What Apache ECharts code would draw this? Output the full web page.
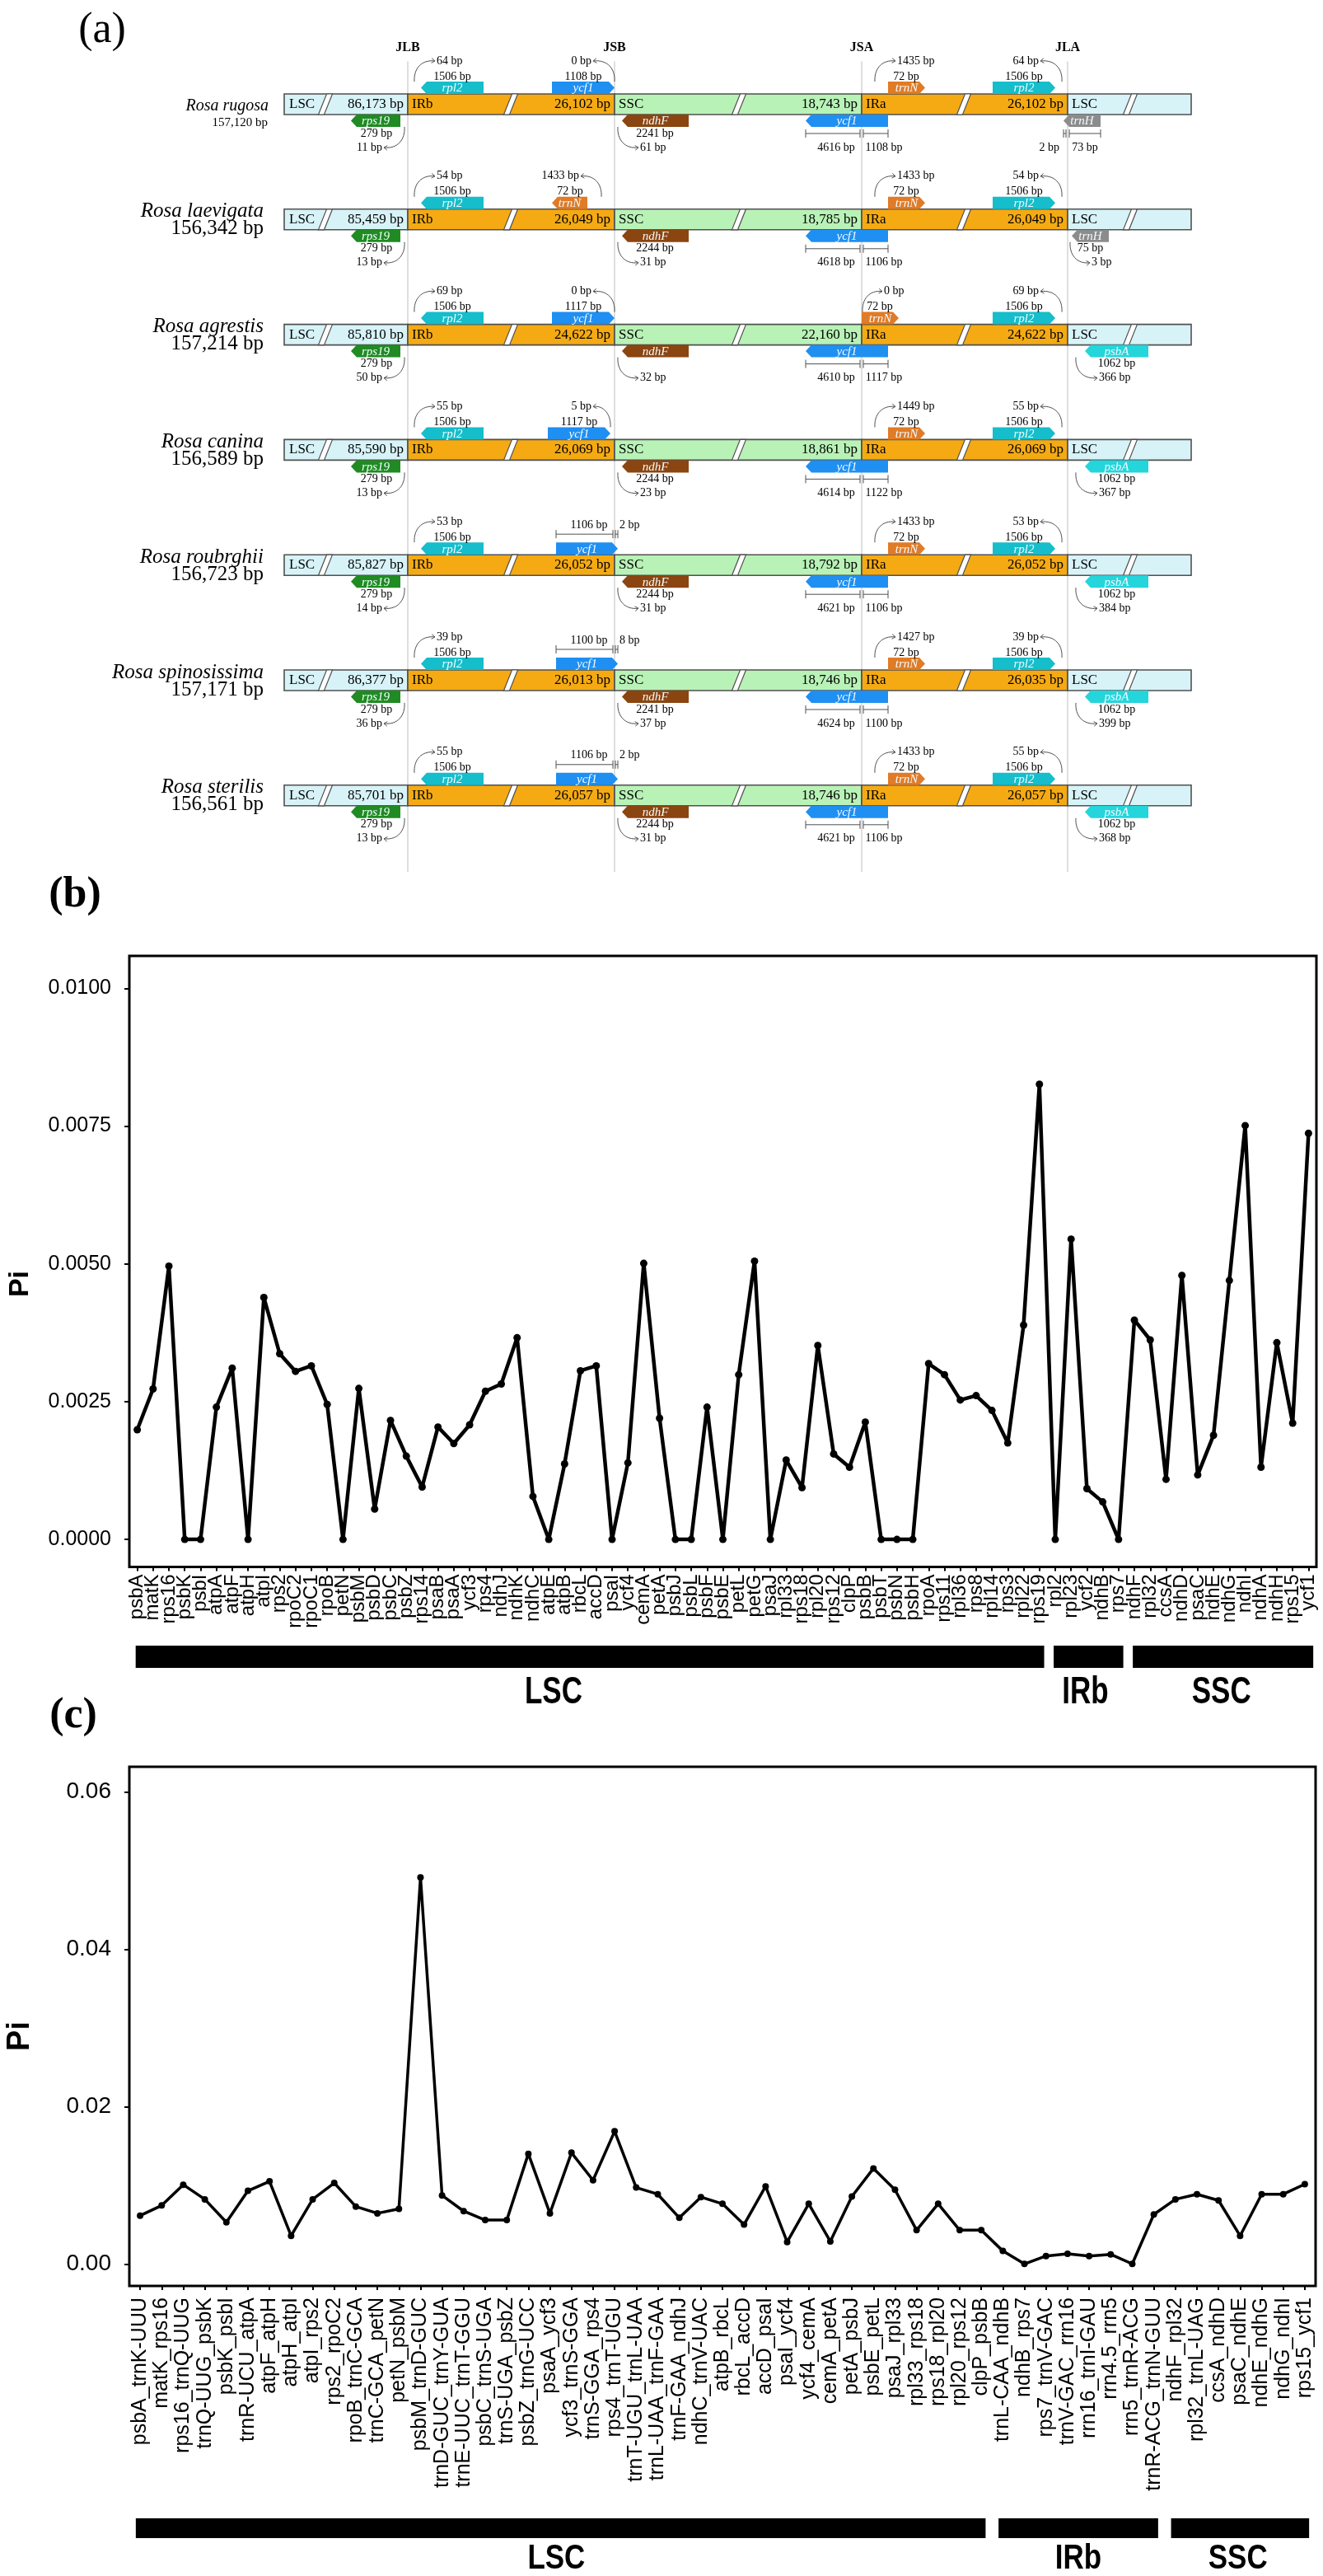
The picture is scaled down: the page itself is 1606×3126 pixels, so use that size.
<!DOCTYPE html>
<html>
<head>
<meta charset="utf-8">
<script src="https://cdn.jsdelivr.net/npm/echarts@6/dist/echarts.min.js"></script>
<style>
html, body { margin: 0; padding: 0; background: #fff; }
#chart { width: 1606px; height: 3126px; }
</style>
</head>
<body>
<div id="chart"></div>
<script>
// ---------- (a) IR boundaries ----------
const species = ['Rosa rugosa', 'Rosa laevigata', 'Rosa agrestis', 'Rosa canina', 'Rosa roubrghii', 'Rosa spinosissima', 'Rosa sterilis'];
const genomeSize = ['157,120 bp', '156,342 bp', '157,214 bp', '156,589 bp', '156,723 bp', '157,171 bp', '156,561 bp'];
const lscSize = ['86,173 bp', '85,459 bp', '85,810 bp', '85,590 bp', '85,827 bp', '86,377 bp', '85,701 bp'];
const irbSize = ['26,102 bp', '26,049 bp', '24,622 bp', '26,069 bp', '26,052 bp', '26,013 bp', '26,057 bp'];
const sscSize = ['18,743 bp', '18,785 bp', '22,160 bp', '18,861 bp', '18,792 bp', '18,746 bp', '18,746 bp'];
const iraSize = ['26,102 bp', '26,049 bp', '24,622 bp', '26,069 bp', '26,052 bp', '26,035 bp', '26,057 bp'];
const rpl2Len = [1506, 1506, 1506, 1506, 1506, 1506, 1506];
const rpl2Gap = [64, 54, 69, 55, 53, 39, 55];
const rps19Len = [279, 279, 279, 279, 279, 279, 279];
const rps19Gap = [11, 13, 50, 13, 14, 36, 13];
const jsbGene = ['ycf1', 'trnN', 'ycf1', 'ycf1', 'ycf1', 'ycf1', 'ycf1'];
const jsbGeneLen = [1108, 72, 1117, 1117, 1106, 1100, 1106];
const jsbGeneGap = [0, 1433, 0, 5, 2, 8, 2];
const jsbCross = [false, false, false, false, true, true, true];
const ndhFLen = [2241, 2244, null, 2244, 2244, 2241, 2244];
const ndhFGap = [61, 31, 32, 23, 31, 37, 31];
const ycf1InSsc = [4616, 4618, 4610, 4614, 4621, 4624, 4621];
const ycf1InIra = [1108, 1106, 1117, 1122, 1106, 1100, 1106];
const trnNLen = [72, 72, 72, 72, 72, 72, 72];
const trnNGap = [1435, 1433, 0, 1449, 1433, 1427, 1433];
const jlaGene = ['trnH', 'trnH', 'psbA', 'psbA', 'psbA', 'psbA', 'psbA'];
const jlaGeneLen = [73, 75, 1062, 1062, 1062, 1062, 1062];
const jlaGeneGap = [2, 3, 366, 367, 384, 399, 368];
const jlaCross = [true, false, false, false, false, false, false];
const junctions = ['JLB', 'JSB', 'JSA', 'JLA'];

// ---------- (b) genes ----------
const bGenes = ['psbA', 'matK', 'rps16', 'psbK', 'psbI', 'atpA', 'atpF', 'atpH', 'atpI', 'rps2',
  'rpoC2', 'rpoC1', 'rpoB', 'petN', 'psbM', 'psbD', 'psbC', 'psbZ', 'rps14', 'psaB',
  'psaA', 'ycf3', 'rps4', 'ndhJ', 'ndhK', 'ndhC', 'atpE', 'atpB', 'rbcL', 'accD',
  'psaI', 'ycf4', 'cemA', 'petA', 'psbJ', 'psbL', 'psbF', 'psbE', 'petL', 'petG',
  'psaJ', 'rpl33', 'rps18', 'rpl20', 'rps12', 'clpP', 'psbB', 'psbT', 'psbN', 'psbH',
  'rpoA', 'rps11', 'rpl36', 'rps8', 'rpl14', 'rps3', 'rpl22', 'rps19', 'rpl2', 'rpl23',
  'ycf2', 'ndhB', 'rps7', 'ndhF', 'rpl32', 'ccsA', 'ndhD', 'psaC', 'ndhE', 'ndhG',
  'ndhI', 'ndhA', 'ndhH', 'rps15', 'ycf1'];
const bPi = [0.00199, 0.00273, 0.00496, 0, 0, 0.00240, 0.00311, 0, 0.00439, 0.00337,
  0.00305, 0.00315, 0.00245, 0, 0.00274, 0.00055, 0.00216, 0.00151, 0.00095, 0.00204,
  0.00174, 0.00208, 0.00269, 0.00282, 0.00366, 0.00078, 0, 0.00137, 0.00306, 0.00315,
  0, 0.00139, 0.00501, 0.00220, 0, 0, 0.00240, 0, 0.00299, 0.00505,
  0, 0.00144, 0.00094, 0.00352, 0.00155, 0.00131, 0.00213, 0, 0, 0,
  0.00319, 0.00299, 0.00253, 0.00261, 0.00234, 0.00175, 0.00389, 0.00826, 0, 0.00545,
  0.00092, 0.00068, 0, 0.00398, 0.00362, 0.00109, 0.00479, 0.00117, 0.00189, 0.00470,
  0.00751, 0.00131, 0.00357, 0.00211, 0.00737];
const bTicks = [0, 0.0025, 0.005, 0.0075, 0.01];
const bRegionName = ['LSC', 'IRb', 'SSC'];
const bRegionFirst = [0, 58, 63];
const bRegionLast = [57, 62, 74];
const bRegionLabelAt = [26.3, 59.9, 68.5];

// ---------- (c) intergenic regions ----------
const cRegions = ['psbA_trnK-UUU', 'matK_rps16', 'rps16_trnQ-UUG', 'trnQ-UUG_psbK', 'psbK_psbI', 'trnR-UCU_atpA', 'atpF_atpH', 'atpH_atpI', 'atpI_rps2', 'rps2_rpoC2',
  'rpoB_trnC-GCA', 'trnC-GCA_petN', 'petN_psbM', 'psbM_trnD-GUC', 'trnD-GUC_trnY-GUA', 'trnE-UUC_trnT-GGU', 'psbC_trnS-UGA', 'trnS-UGA_psbZ', 'psbZ_trnG-UCC', 'psaA_ycf3',
  'ycf3_trnS-GGA', 'trnS-GGA_rps4', 'rps4_trnT-UGU', 'trnT-UGU_trnL-UAA', 'trnL-UAA_trnF-GAA', 'trnF-GAA_ndhJ', 'ndhC_trnV-UAC', 'atpB_rbcL', 'rbcL_accD', 'accD_psaI',
  'psaI_ycf4', 'ycf4_cemA', 'cemA_petA', 'petA_psbJ', 'psbE_petL', 'psaJ_rpl33', 'rpl33_rps18', 'rps18_rpl20', 'rpl20_rps12', 'clpP_psbB',
  'trnL-CAA_ndhB', 'ndhB_rps7', 'rps7_trnV-GAC', 'trnV-GAC_rrn16', 'rrn16_trnI-GAU', 'rrn4.5_rrn5', 'rrn5_trnR-ACG', 'trnR-ACG_trnN-GUU',
  'ndhF_rpl32', 'rpl32_trnL-UAG', 'ccsA_ndhD', 'psaC_ndhE', 'ndhE_ndhG', 'ndhG_ndhI', 'rps15_ycf1'];
const cPi = [0.00614, 0.00743, 0.01007, 0.00821, 0.00529, 0.00929, 0.0105, 0.00357, 0.00821, 0.01029,
  0.00729, 0.00643, 0.0070, 0.04914, 0.00871, 0.00671, 0.00557, 0.00557, 0.0140, 0.00643,
  0.01414, 0.01064, 0.01686, 0.00971, 0.00886, 0.00586, 0.0085, 0.00764, 0.0050, 0.00986,
  0.00279, 0.00764, 0.00286, 0.00857, 0.01214, 0.00943, 0.00429, 0.00764, 0.00429, 0.00429,
  0.00164, 0, 0.0010, 0.00129, 0.0010, 0.00121, 0, 0.00629,
  0.00821, 0.00886, 0.00807, 0.00357, 0.00886, 0.00886, 0.01014];
const cTicks = [0, 0.02, 0.04, 0.06];
const cRegionName = ['LSC', 'IRb', 'SSC'];
const cRegionFirst = [0, 40, 48];
const cRegionLast = [39, 47, 54];
const cRegionLabelAt = [19.3, 43.5, 50.9];

// ---------- drawing ----------
const SERIF = "'Liberation Serif', 'Times New Roman', serif";
const SANS = "'Liberation Sans', Arial, Helvetica, sans-serif";
const LINE = '#505050';
const J = { JLB: 150, JSB: 401, JSA: 701, JLA: 951 };
const SEGMENTS = [[0, 150, '#d7f3f8'], [150, 401, '#f5aa13'], [401, 701, '#b9f2b7'], [701, 951, '#f5aa13'], [951, 1101, '#d7f3f8']];
const SLASHES = [50, 275, 552, 825, 1027];
const GENE_COLOR = { rpl2: '#16bdca', ycf1: '#1f8ff2', trnN: '#e07b27', ndhF: '#8b4511', rps19: '#1f8b22', trnH: '#8c8c8c', psbA: '#24d5db' };

function txt(x, y, text, o) {
    return { type: 'text', style: Object.assign({ x: x, y: y, text: String(text), fill: '#000', fontSize: 14, fontFamily: SERIF, align: 'center', verticalAlign: 'middle' }, o || {}) };
}

function gene(x1, x2, y, dir, name) {
    const h = 15, tip = 7;
    const pts = dir === 'left'
        ? [[x1, y + h / 2], [x1 + tip, y], [x2, y], [x2, y + h], [x1 + tip, y + h]]
        : [[x1, y], [x2 - tip, y], [x2, y + h / 2], [x2 - tip, y + h], [x1, y + h]];
    return [
        { type: 'polygon', shape: { points: pts }, style: { fill: GENE_COLOR[name] } },
        txt((x1 + x2) / 2, y + h / 2 + 1, name, { fill: '#f2fcff', fontStyle: 'italic', fontSize: 15 })
    ];
}

// curved arrow from a gene end to its distance label
function arc(sx, sy, ex, ey) {
    const dx = Math.sign(ex - sx), dy = Math.sign(ey - sy);
    const c1x = sx - dx, c1y = sy + dy * 15;
    const c2x = sx + dx * 8, c2y = ey + dy * 2;
    const L = Math.hypot(ex - c2x, ey - c2y), ux = (ex - c2x) / L, uy = (ey - c2y) / L;
    const wing = a => [ex - 5 * (ux * Math.cos(a) - uy * Math.sin(a)), ey - 5 * (ux * Math.sin(a) + uy * Math.cos(a))];
    return [
        { type: 'bezierCurve', shape: { x1: sx, y1: sy, x2: ex, y2: ey, cpx1: c1x, cpy1: c1y, cpx2: c2x, cpy2: c2y }, style: { stroke: LINE, lineWidth: 1, fill: null } },
        { type: 'polyline', shape: { points: [wing(0.6), [ex, ey], wing(-0.6)] }, style: { stroke: LINE, lineWidth: 1, fill: null } }
    ];
}

function measure(x1, x2, y) {
    const s = { stroke: LINE, lineWidth: 1 };
    return [
        { type: 'line', shape: { x1: x1, y1: y, x2: x2, y2: y }, style: s },
        { type: 'line', shape: { x1: x1, y1: y - 5, x2: x1, y2: y + 5 }, style: s },
        { type: 'line', shape: { x1: x2, y1: y - 5, x2: x2, y2: y + 5 }, style: s }
    ];
}

function renderRow(params, api) {
    const i = api.value(1);
    const X = u => api.coord([u, i])[0];
    const cy = api.coord([0, i])[1];
    const T = cy - 12.5, B = cy + 12.5;
    const jlb = X(J.JLB), jsb = X(J.JSB), jsa = X(J.JSA), jla = X(J.JLA);
    const up1 = T - 21, up2 = T - 40, dn1 = T + 48, dn2 = T + 65;
    const k = [];
    const add = a => Array.isArray(a) ? k.push.apply(k, a) : k.push(a);

    SEGMENTS.forEach(s => add({ type: 'rect', shape: { x: X(s[0]), y: T, width: X(s[1]) - X(s[0]), height: 25 }, style: { fill: s[2], stroke: LINE, lineWidth: 1.6 } }));
    SLASHES.forEach(u => {
        const c = X(u);
        add({ type: 'polygon', shape: { points: [[c - 8.5, B], [c - 1.5, B], [c + 8.5, T], [c + 1.5, T]] }, style: { fill: '#fff', stroke: LINE, lineWidth: 1.2 } });
    });

    const bar = { fontSize: 17 };
    add(txt(X(0) + 6, cy, 'LSC', Object.assign({ align: 'left' }, bar)));
    add(txt(jlb - 5, cy, lscSize[i], Object.assign({ align: 'right' }, bar)));
    add(txt(jlb + 5, cy, 'IRb', Object.assign({ align: 'left' }, bar)));
    add(txt(jsb - 5, cy, irbSize[i], Object.assign({ align: 'right' }, bar)));
    add(txt(jsb + 5, cy, 'SSC', Object.assign({ align: 'left' }, bar)));
    add(txt(jsa - 5, cy, sscSize[i], Object.assign({ align: 'right' }, bar)));
    add(txt(jsa + 5, cy, 'IRa', Object.assign({ align: 'left' }, bar)));
    add(txt(jla - 5, cy, iraSize[i], Object.assign({ align: 'right' }, bar)));
    add(txt(jla + 5, cy, 'LSC', Object.assign({ align: 'left' }, bar)));

    // species name and genome size
    if (i === 0) {
        add(txt(X(0) - 19, cy + 2, species[i], { align: 'right', fontSize: 20, fontStyle: 'italic' }));
        add(txt(X(0) - 20, cy + 23, genomeSize[i], { align: 'right', fontSize: 15 }));
    } else {
        add(txt(X(0) - 25, cy - 9.5, species[i], { align: 'right', fontSize: 25, fontStyle: 'italic' }));
        add(txt(X(0) - 25, cy + 11.5, genomeSize[i], { align: 'right', fontSize: 25 }));
    }

    // JLB: rpl2 above, rps19 below
    add(gene(jlb + 16, jlb + 92, T - 15, 'left', 'rpl2'));
    add(txt(jlb + 54, up1, rpl2Len[i] + ' bp'));
    add(arc(jlb + 8, T - 15, jlb + 33, up2));
    add(txt(jlb + 35, up2, rpl2Gap[i] + ' bp', { align: 'left' }));

    add(gene(jlb - 69, jlb - 9, B, 'left', 'rps19'));
    add(txt(jlb - 38, dn1, rps19Len[i] + ' bp'));
    add(arc(jlb - 4, B + 15, jlb - 29, dn2));
    add(txt(jlb - 31, dn2, rps19Gap[i] + ' bp', { align: 'right' }));

    // JSB: ycf1 / trnN above, ndhF below
    if (jsbGene[i] === 'trnN') {
        add(gene(jsb - 76, jsb - 33, T - 15, 'left', 'trnN'));
        add(txt(jsb - 54, up1, jsbGeneLen[i] + ' bp'));
        add(arc(jsb - 16, T - 15, jsb - 41, up2));
        add(txt(jsb - 43, up2, jsbGeneGap[i] + ' bp', { align: 'right' }));
    } else if (jsbCross[i]) {
        add(gene(jsb - 71, jsb + 4, T - 15, 'right', 'ycf1'));
        add(measure(jsb - 71, jsb - 2, T - 25));
        add(measure(jsb + 1, jsb + 4, T - 25));
        add(txt(jsb - 31, T - 36, jsbGeneLen[i] + ' bp'));
        add(txt(jsb + 6, T - 36, jsbGeneGap[i] + ' bp', { align: 'left' }));
    } else {
        const g = jsbGeneGap[i];
        add(gene(jsb - 76 - g, jsb - g, T - 15, 'right', 'ycf1'));
        add(txt(jsb - 38 - g, up1, jsbGeneLen[i] + ' bp'));
        add(arc(jsb - g, T - 15, jsb - 26, up2));
        add(txt(jsb - 28, up2, g + ' bp', { align: 'right' }));
    }
    add(gene(jsb + 9, jsb + 90, B, 'left', 'ndhF'));
    if (ndhFLen[i] !== null) add(txt(jsb + 49, dn1, ndhFLen[i] + ' bp'));
    add(arc(jsb + 4, B + 15, jsb + 29, dn2));
    add(txt(jsb + 31, dn2, ndhFGap[i] + ' bp', { align: 'left' }));

    // JSA: ycf1 below, trnN above
    add(gene(jsa - 68, jsa + 32, B, 'left', 'ycf1'));
    add(measure(jsa - 68, jsa - 2, T + 48));
    add(measure(jsa + 2, jsa + 32, T + 48));
    add(txt(jsa - 31, dn2, ycf1InSsc[i] + ' bp'));
    add(txt(jsa + 27, dn2, ycf1InIra[i] + ' bp'));

    const zero = trnNGap[i] === 0;
    const a = zero ? jsa : jsa + 32;
    add(gene(a, a + 45, T - 15, 'right', 'trnN'));
    add(txt(a + 22, up1, trnNLen[i] + ' bp'));
    add(arc(zero ? jsa + 1 : jsa + 16, T - 15, zero ? jsa + 25 : jsa + 41, up2));
    add(txt(zero ? jsa + 27 : jsa + 43, up2, trnNGap[i] + ' bp', { align: 'left' }));

    // JLA: rpl2 above, trnH / psbA below
    add(gene(jla - 91, jla - 15, T - 15, 'right', 'rpl2'));
    add(txt(jla - 53, up1, rpl2Len[i] + ' bp'));
    add(arc(jla - 7, T - 15, jla - 33, up2));
    add(txt(jla - 35, up2, rpl2Gap[i] + ' bp', { align: 'right' }));

    if (jlaCross[i]) {
        add(gene(jla - 5, jla + 40, B, 'left', jlaGene[i]));
        add(measure(jla - 5, jla - 2, T + 48));
        add(measure(jla + 2, jla + 40, T + 48));
        add(txt(jla - 10, dn2, jlaGeneGap[i] + ' bp', { align: 'right' }));
        add(txt(jla + 21, dn2, jlaGeneLen[i] + ' bp'));
    } else {
        const small = jlaGene[i] === 'trnH';
        const gx = small ? jla + 5 : jla + 21, w = small ? 45 : 77;
        add(gene(gx, gx + w, B, 'left', jlaGene[i]));
        add(txt(gx + w / 2, dn1, jlaGeneLen[i] + ' bp'));
        const ex = small ? jla + 27 : jla + 36;
        add(arc(small ? jla + 3 : jla + 10, B + 15, ex, dn2));
        add(txt(ex + 2, dn2, jlaGeneGap[i] + ' bp', { align: 'left' }));
    }
    return { type: 'group', children: k };
}

function renderJunction(params, api) {
    const name = junctions[params.dataIndex];
    const x = api.coord([J[name], 0])[0];
    const y0 = api.coord([0, 0])[1], yN = api.coord([0, species.length - 1])[1];
    return {
        type: 'group', children: [
            { type: 'line', shape: { x1: x, y1: y0 - 52, x2: x, y2: yN + 93 }, style: { stroke: '#d4d4d4', lineWidth: 1.5 } },
            txt(x, y0 - 69, name, { fontSize: 16, fontWeight: 'bold' })
        ]
    };
}

function regionRenderer(names, first, last, labelAt, padL, padR, labelGap, fontSize, stretch) {
    return function (params, api) {
        const r = params.dataIndex;
        const band = api.size([1, 0])[0];
        const xAt = v => api.coord([Math.floor(v), 0])[0] + (v - Math.floor(v)) * band;
        const x1 = api.coord([first[r], 0])[0] - padL * band;
        const x2 = api.coord([last[r], 0])[0] + padR * band;
        const top = api.coord([0, 1])[1], bot = api.coord([0, 0])[1];
        return {
            type: 'group', children: [
                { type: 'rect', shape: { x: x1, y: top, width: x2 - x1, height: bot - top }, style: { fill: '#000' } },
                {
                    type: 'text', x: xAt(labelAt[r]), y: bot + labelGap, scaleY: stretch,
                    style: { x: 0, y: 0, text: names[r], fill: '#000', fontSize: fontSize, fontWeight: 'bold', fontFamily: SANS, align: 'center', verticalAlign: 'middle' }
                }
            ]
        };
    };
}

function piAxis(gridIndex, min, max, ticks, digits, fontSize) {
    return {
        type: 'value', gridIndex: gridIndex, min: min, max: max,
        axisLine: { show: false, onZero: false },
        splitLine: { show: false },
        axisTick: { show: true, customValues: ticks, length: 6, lineStyle: { color: '#000', width: 2 } },
        axisLabel: { customValues: ticks, formatter: v => v.toFixed(digits), color: '#000', fontSize: fontSize, fontFamily: SANS, margin: 22 }
    };
}

function catAxis(gridIndex, data, fontSize, margin, show) {
    return {
        type: 'category', gridIndex: gridIndex, data: data, boundaryGap: true, show: show, position: 'bottom',
        axisLine: { show: false, onZero: false },
        axisTick: { show: true, alignWithLabel: true, interval: 0, length: 5, lineStyle: { color: '#000', width: 2 } },
        axisLabel: { interval: 0, rotate: 90, color: '#000', fontSize: fontSize, fontFamily: SANS, margin: margin }
    };
}

const chart = echarts.init(document.getElementById('chart'));
chart.setOption({
    animation: false,
    backgroundColor: '#fff',
    grid: [
        { left: 345, top: 56.6, width: 1101, height: 978.6, outerBoundsMode: 'none' },
        { left: 157, top: 1160, width: 1441, height: 741.5, show: true, borderColor: '#000', borderWidth: 3, backgroundColor: 'transparent', outerBoundsMode: 'none' },
        { left: 157, top: 1997, width: 1441, height: 27, outerBoundsMode: 'none' },
        { left: 157, top: 2144, width: 1440, height: 630, show: true, borderColor: '#000', borderWidth: 3, backgroundColor: 'transparent', outerBoundsMode: 'none' },
        { left: 157, top: 3056, width: 1440, height: 24, outerBoundsMode: 'none' }
    ],
    xAxis: [
        { type: 'value', gridIndex: 0, min: 0, max: 1101, show: false },
        catAxis(1, bGenes, 24, 9, true),
        catAxis(2, bGenes, 24, 9, false),
        catAxis(3, cRegions, 25, 14, true),
        catAxis(4, cRegions, 25, 14, false)
    ],
    yAxis: [
        { type: 'category', gridIndex: 0, data: species, inverse: true, show: false },
        piAxis(1, -0.0005, 0.01059, bTicks, 4, 25),
        { type: 'value', gridIndex: 2, min: 0, max: 1, show: false },
        piAxis(3, -0.0028, 0.0632, cTicks, 2, 28),
        { type: 'value', gridIndex: 4, min: 0, max: 1, show: false }
    ],
    graphic: [
        { type: 'text', x: 124, y: 37, style: { text: '(a)', fontSize: 52, fontFamily: SERIF, fill: '#000', align: 'center', verticalAlign: 'middle' } },
        { type: 'text', x: 91, y: 1087, style: { text: '(b)', fontSize: 52, fontWeight: 'bold', fontFamily: SERIF, fill: '#000', align: 'center', verticalAlign: 'middle' } },
        { type: 'text', x: 89, y: 2083, style: { text: '(c)', fontSize: 52, fontWeight: 'bold', fontFamily: SERIF, fill: '#000', align: 'center', verticalAlign: 'middle' } },
        { type: 'text', x: 25, y: 1558, rotation: Math.PI / 2, style: { text: 'Pi', fontSize: 34, fontWeight: 'bold', fontFamily: SANS, fill: '#000', align: 'center', verticalAlign: 'middle' } },
        { type: 'text', x: 25, y: 2471, rotation: Math.PI / 2, style: { text: 'Pi', fontSize: 38, fontWeight: 'bold', fontFamily: SANS, fill: '#000', align: 'center', verticalAlign: 'middle' } }
    ],
    series: [
        { type: 'custom', xAxisIndex: 0, yAxisIndex: 0, z: 1, silent: true, renderItem: renderJunction, data: junctions.map(n => [J[n], 0]) },
        { type: 'custom', xAxisIndex: 0, yAxisIndex: 0, z: 2, silent: true, renderItem: renderRow, data: species.map((s, i) => [0, i]) },
        {
            type: 'line', xAxisIndex: 1, yAxisIndex: 1, data: bPi, symbol: 'circle', symbolSize: 9,
            lineStyle: { color: '#000', width: 4.5 }, itemStyle: { color: '#000' }, silent: true
        },
        {
            type: 'custom', xAxisIndex: 2, yAxisIndex: 2, silent: true,
            renderItem: regionRenderer(bRegionName, bRegionFirst, bRegionLast, bRegionLabelAt, 0.1, 0.3, 30, 35, 1.3),
            data: bRegionName.map((n, i) => [bRegionFirst[i], 1])
        },
        {
            type: 'line', xAxisIndex: 3, yAxisIndex: 3, data: cPi, symbol: 'circle', symbolSize: 8,
            lineStyle: { color: '#000', width: 3.5 }, itemStyle: { color: '#000' }, silent: true
        },
        {
            type: 'custom', xAxisIndex: 4, yAxisIndex: 4, silent: true,
            renderItem: regionRenderer(cRegionName, cRegionFirst, cRegionLast, cRegionLabelAt, 0.2, 0.2, 25, 35, 1.2),
            data: cRegionName.map((n, i) => [cRegionFirst[i], 1])
        }
    ]
});
</script>
</body>
</html>
